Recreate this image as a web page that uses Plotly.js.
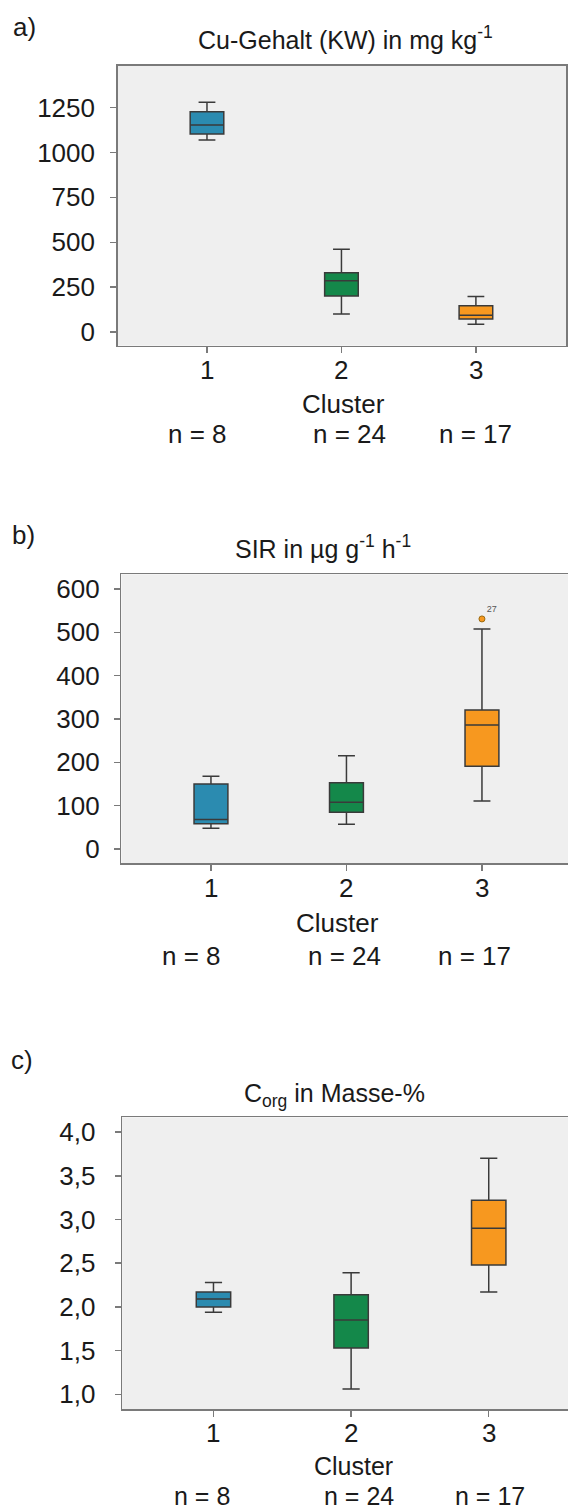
<!DOCTYPE html>
<html>
<head>
<meta charset="utf-8">
<script src="https://cdn.plot.ly/plotly-3.0.1.min.js"></script>
<style>
  html, body { margin: 0; padding: 0; background: #ffffff; }
  #chart { width: 568px; height: 1511px; }
</style>
</head>
<body>
<div id="chart"></div>
<script>
// ---------- data ----------
const categories = ['1', '2', '3'];
const clusterColors = ['#2b8bb0', '#14884a', '#f7981f'];
const nLabels = ['n = 8', 'n = 24', 'n = 17'];

// a) Cu-Gehalt (KW) in mg kg-1
const cuLower  = [1069, 100, 43];
const cuQ1     = [1103, 201, 73];
const cuMedian = [1153, 285, 94];
const cuQ3     = [1226, 330, 146];
const cuUpper  = [1279, 461, 198];
const cuTicks  = [0, 250, 500, 750, 1000, 1250];
const cuTickText = ['0', '250', '500', '750', '1000', '1250'];

// b) SIR in µg g-1 h-1
const sirLower  = [48, 57, 111];
const sirQ1     = [58, 85, 191];
const sirMedian = [68, 108, 286];
const sirQ3     = [150, 153, 321];
const sirUpper  = [168, 215, 508];
const sirOutlierCluster = ['3'];
const sirOutlierValue   = [531];
const sirOutlierLabel   = ['27'];
const sirTicks = [0, 100, 200, 300, 400, 500, 600];
const sirTickText = ['0', '100', '200', '300', '400', '500', '600'];

// c) Corg in Masse-%
const cLower  = [1.94, 1.06, 2.17];
const cQ1     = [2.00, 1.53, 2.48];
const cMedian = [2.09, 1.85, 2.90];
const cQ3     = [2.17, 2.14, 3.22];
const cUpper  = [2.28, 2.39, 3.70];
const cTicks = [1.0, 1.5, 2.0, 2.5, 3.0, 3.5, 4.0];
const cTickText = ['1,0', '1,5', '2,0', '2,5', '3,0', '3,5', '4,0'];

// ---------- layout helpers ----------
const W = 568, H = 1511;
const px = v => v / W;
const py = v => 1 - v / H;
const FONT = 'Liberation Sans, Arial, Helvetica, sans-serif';
const TXT = '#1a1a1a';
const AXC = '#7a7a7a';

function boxes(lower, q1, med, q3, upper, xa, ya) {
  return categories.map((c, i) => ({
    type: 'box',
    x: [c],
    lowerfence: [lower[i]], q1: [q1[i]], median: [med[i]], q3: [q3[i]], upperfence: [upper[i]],
    xaxis: xa, yaxis: ya,
    width: 0.25,
    whiskerwidth: 0.5,
    fillcolor: clusterColors[i],
    line: { color: '#3a3a3a', width: 1.5 },
    boxpoints: false,
    hoverinfo: 'skip',
    showlegend: false
  }));
}

const traces = [
  ...boxes(cuLower, cuQ1, cuMedian, cuQ3, cuUpper, 'x', 'y'),
  ...boxes(sirLower, sirQ1, sirMedian, sirQ3, sirUpper, 'x2', 'y2'),
  {
    type: 'scatter', mode: 'markers+text',
    x: sirOutlierCluster, y: sirOutlierValue, text: sirOutlierLabel,
    textposition: 'top right',
    textfont: { family: FONT, size: 9, color: '#555' },
    marker: { color: clusterColors[2], size: 6, line: { color: '#9a6a10', width: 1 } },
    xaxis: 'x2', yaxis: 'y2', hoverinfo: 'skip', showlegend: false, cliponaxis: false
  },
  ...boxes(cLower, cQ1, cMedian, cQ3, cUpper, 'x3', 'y3')
];

function xAxis(domain, range, anchor) {
  return {
    type: 'category', categoryorder: 'array', categoryarray: categories,
    domain: domain, range: range, anchor: anchor,
    showline: true, linecolor: AXC, linewidth: 1.5, mirror: true,
    ticks: 'outside', ticklen: 6, tickwidth: 1.5, tickcolor: AXC,
    showticklabels: false,
    showgrid: false, zeroline: false
  };
}
function yAxis(domain, range, anchor, tv, tt, mirror, standoff) {
  return {
    domain: domain, range: range, anchor: anchor,
    tickvals: tv, ticktext: tt,
    showline: true, linecolor: AXC, linewidth: 1.5, mirror: mirror,
    ticks: 'outside', ticklen: 6, tickwidth: 1.5, tickcolor: AXC,
    ticklabelstandoff: standoff,
    showgrid: false, zeroline: false,
    tickfont: { family: FONT, size: 26, color: TXT }
  };
}

function ann(text, x, y, size) {
  return {
    text: text, xref: 'paper', yref: 'paper', x: px(x), y: py(y),
    xanchor: 'center', yanchor: 'middle', showarrow: false,
    font: { family: FONT, size: size || 26, color: TXT }
  };
}
// category tick labels placed on the category axis positions (serial index)
function catLabels(xref, y) {
  return categories.map((c, i) => ({
    text: c, xref: xref, yref: 'paper', x: i, y: py(y),
    xanchor: 'center', yanchor: 'middle', showarrow: false,
    font: { family: FONT, size: 26, color: TXT }
  }));
}

const annotations = [
  ann('a)', 24, 27),
  ann('Cu-Gehalt (KW) in mg kg<sup>-1</sup>', 345, 38, 25),
  ...catLabels('x', 370),
  ann('Cluster', 343, 404),
  ann(nLabels[0], 197, 434), ann(nLabels[1], 349, 434), ann(nLabels[2], 475, 434),

  ann('b)', 23, 535),
  ann('SIR in µg g<sup>-1</sup> h<sup>-1</sup>', 323, 547, 25),
  ...catLabels('x2', 888),
  ann('Cluster', 337, 923),
  ann(nLabels[0], 191, 956), ann(nLabels[1], 344, 956), ann(nLabels[2], 474, 956),

  ann('c)', 22, 1060),
  ann('C<sub>org</sub> in Masse-%', 334, 1095, 25),
  ...catLabels('x3', 1433),
  ann('Cluster', 353, 1466, 25),
  ann(nLabels[0], 202, 1496, 25), ann(nLabels[1], 359, 1496, 25), ann(nLabels[2], 490, 1496, 25)
];

const layout = {
  width: W, height: H,
  margin: { l: 0, r: 0, t: 0, b: 0 },
  paper_bgcolor: '#ffffff',
  plot_bgcolor: '#efefef',
  showlegend: false,
  font: { family: FONT, color: TXT },
  xaxis:  xAxis([px(117.7), px(566)], [0.336 - 1, 3.67 - 1], 'y'),
  yaxis:  yAxis([py(345.7), py(65.7)], [-76, 1483], 'x', cuTicks, cuTickText, true, 10),
  xaxis2: xAxis([px(121.4), 1], [0.339 - 1, 3.635 - 1], 'y2'),
  yaxis2: yAxis([py(863.3), py(574.3)], [-33, 634], 'x2', sirTicks, sirTickText, false, 9),
  xaxis3: xAxis([px(122.1), 1], [0.336 - 1, 3.576 - 1], 'y3'),
  yaxis3: yAxis([py(1409.3), py(1117.3)], [0.828, 4.17], 'x3', cTicks, cTickText, false, 14),
  annotations: annotations
};

Plotly.newPlot('chart', traces, layout, { staticPlot: true, displayModeBar: false });
</script>
</body>
</html>
